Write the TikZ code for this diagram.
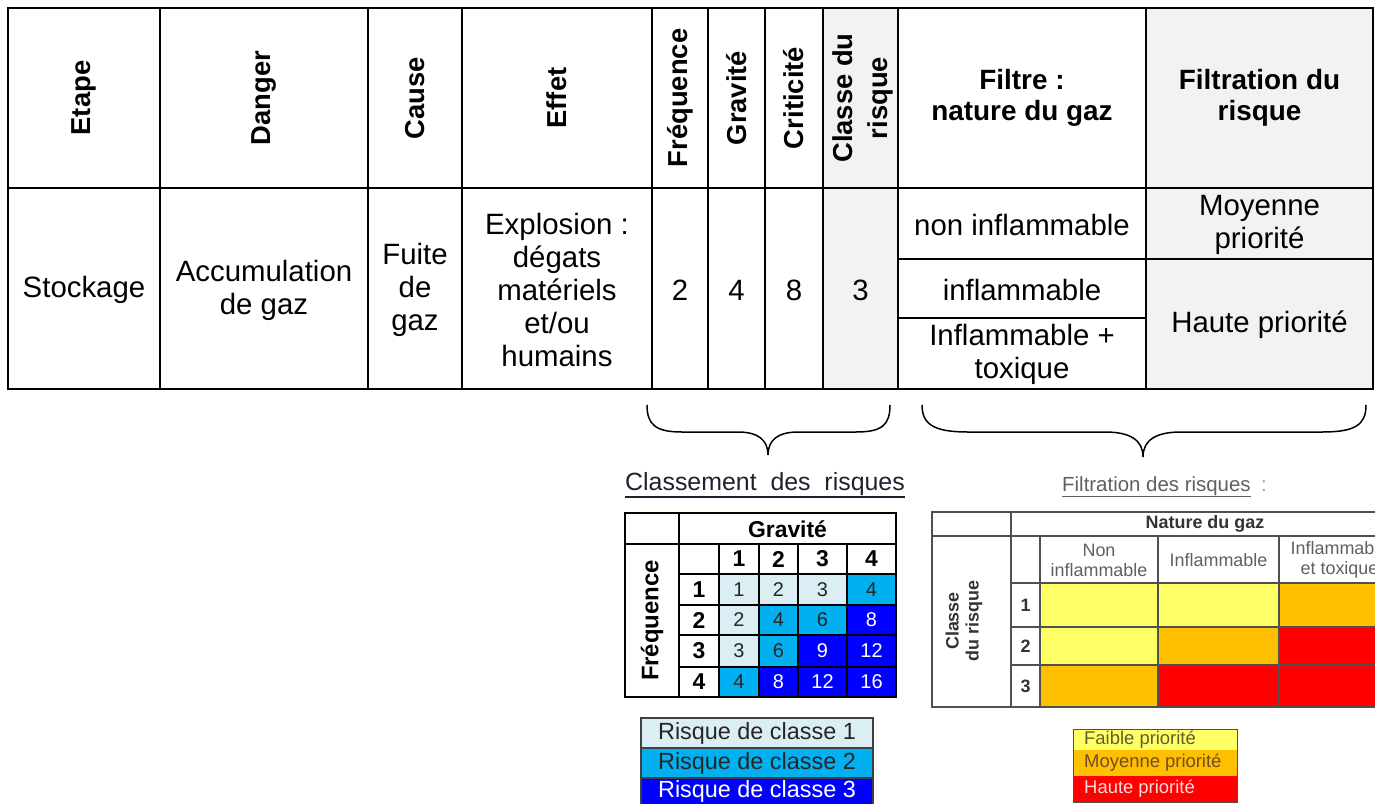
\documentclass[tikz,border=0pt]{standalone}
\usepackage{fontspec}
\setmainfont{Liberation Sans}
\definecolor{cellgray}{HTML}{F2F2F2}
\definecolor{cone}{HTML}{DAEEF3}
\definecolor{ctwo}{HTML}{00B0F0}
\definecolor{cthree}{HTML}{0000FF}
\definecolor{fyel}{HTML}{FFFF66}
\definecolor{forg}{HTML}{FFC000}
\definecolor{fred}{HTML}{FF0000}
\definecolor{fline}{HTML}{505050}
\definecolor{ftext}{HTML}{606060}
\definecolor{titlecol}{HTML}{202030}
\begin{document}
\begin{tikzpicture}[x=1bp,y=-1bp,
  hdr/.style={rotate=90,font=\bfseries\fontsize{27.5}{31}\selectfont,align=center,inner sep=0pt},
  hhdr/.style={font=\bfseries\fontsize{28}{31}\selectfont,align=center,inner sep=0pt},
  body/.style={font=\fontsize{29.5}{33}\selectfont,align=center,inner sep=0pt},
  grid/.style={line width=1.7bp},
  brace/.style={line width=1.5bp},
  mgrid/.style={line width=1.5bp},
  mhead/.style={font=\bfseries\fontsize{23}{26}\selectfont,inner sep=0pt},
  mval/.style={font=\fontsize{20}{22}\selectfont,inner sep=0pt},
  legtext/.style={font=\fontsize{23.5}{26}\selectfont,inner sep=0pt},
  fgrid/.style={line width=1.2bp,draw=fline},
  fhead/.style={font=\fontsize{18}{20}\selectfont,text=ftext,align=center,inner sep=0pt},
  fbold/.style={font=\bfseries\fontsize{18}{20}\selectfont,text=black!80,align=center,inner sep=0pt},
  fleg/.style={font=\fontsize{18.5}{20}\selectfont,anchor=west,inner sep=0pt}]
\clip (0,0) rectangle (1375,803);
\fill[white] (0,0) rectangle (1375,803);

% ---------- main table ----------
\fill[cellgray] (823,8) rectangle (898,389);
\fill[cellgray] (1146,8) rectangle (1373,389);
\draw[grid] (8,8) rectangle (1373,389);
\draw[grid] (8,188) -- (1373,188);
\foreach \x in {160,368,462,652,708,765,823,898,1146}
  \draw[grid] (\x,8) -- (\x,389);
\draw[grid] (898,259) -- (1373,259);
\draw[grid] (898,318) -- (1146,318);

\node[hdr] (hEtape) at (84,98) {Etape};
\node[hdr] (hDanger) at (264,98) {Danger};
\node[hdr] (hCause) at (415,98) {Cause};
\node[hdr] (hEffet) at (557,98) {Effet};
\node[hdr] (hFreq) at (680,98) {Fréquence};
\node[hdr] (hGrav) at (736.5,98) {Gravité};
\node[hdr] (hCrit) at (794,98) {Criticité};
\node[hdr,font=\bfseries\fontsize{27.5}{35}\selectfont] (hClasse) at (863,98) {Classe du\\risque};
\node[hhdr] (hFiltre) at (1022,98) {Filtre :\\nature du gaz};
\node[hhdr] (hFiltration) at (1259.5,98) {Filtration du\\risque};

\node[body] (bEtape) at (84,290) {Stockage};
\node[body] (bDanger) at (264,290) {Accumulation\\de gaz};
\node[body] (bCause) at (415,290) {Fuite\\de\\gaz};
\node[body] (bEffet) at (557,290) {Explosion :\\dégats\\matériels\\et/ou\\humains};
\node[body] (bFreq) at (680,290) {2};
\node[body] (bGrav) at (736.5,290) {4};
\node[body] (bCrit) at (794,290) {8};
\node[body] (bClasse) at (860.5,290) {3};
\node[body] (bNonInf) at (1022,225) {non inflammable};
\node[body] (bInf) at (1022,290) {inflammable};
\node[body] (bInfTox) at (1022,354) {Inflammable +\\toxique};
\node[body] (bMoy) at (1259.5,225) {Moyenne\\priorité};
\node[body] (bHaute) at (1259.5,325) {Haute priorité};

% ---------- braces ----------
\coordinate (lbA) at (647,405);
\coordinate (lbTip) at (768,455);
\coordinate (lbB) at (890,405);
\draw[brace] (lbA) .. controls (647,425) and (656,432) .. (682,432) -- (738,432)
  .. controls (758,432) and (768,440) .. (lbTip)
  .. controls (768,440) and (778,432) .. (798,432) -- (856,432)
  .. controls (882,432) and (890,425) .. (lbB);
\coordinate (rbA) at (922,405);
\coordinate (rbTip) at (1143,457);
\coordinate (rbB) at (1366,405);
\draw[brace] (rbA) .. controls (922,425) and (935,432) .. (968,432) -- (1105,432)
  .. controls (1130,432) and (1143,440) .. (rbTip)
  .. controls (1143,440) and (1156,432) .. (1181,432) -- (1322,432)
  .. controls (1355,432) and (1366,425) .. (rbB);

% ---------- Classement des risques ----------
\node[font=\fontsize{25}{28}\selectfont,text=titlecol,anchor=base,inner sep=0pt] (tClass) at (765,490) {Classement\ \ des\ \ risques};
\draw[line width=1.2bp,titlecol] ([yshift=-7bp]tClass.base west) -- ([yshift=-7bp]tClass.base east);

\foreach \i/\xa/\xb in {1/719/759,2/759/798,3/798/847,4/847/896}{
  \foreach \j/\ya/\yb in {1/574/605,2/605/635,3/635/667,4/667/697}{
    \pgfmathtruncatemacro\v{\i*\j}
    \ifnum\v<4 \def\cc{cone}\def\tc{black!85}\else
      \ifnum\v<7 \def\cc{ctwo}\def\tc{black!85}\else
        \def\cc{cthree}\def\tc{white}\fi\fi
    \fill[\cc] (\xa,\ya) rectangle (\xb,\yb);
    \node[mval,text=\tc] (m\i\j) at ({(\xa+\xb)/2},{(\ya+\yb)/2}) {\v};
  }
}
\foreach \i/\xa/\xb in {1/719/759,2/759/798,3/798/847,4/847/896}
  \node[mhead] (mc\i) at ({(\xa+\xb)/2},559) {\i};
\foreach \j/\ya/\yb in {1/574/605,2/605/635,3/635/667,4/667/697}
  \node[mhead] (mr\j) at (699,{(\ya+\yb)/2}) {\j};
\node[mhead] (mGrav) at (787.5,529) {Gravité};
\node[mhead,rotate=90,font=\bfseries\fontsize{24}{26}\selectfont] (mFreq) at (652,620.5) {Fréquence};
\draw[mgrid] (625,513) rectangle (896,697);
\draw[mgrid] (625,544) -- (896,544);
\draw[mgrid] (679,513) -- (679,697);
\foreach \x in {719,759,798,847} \draw[mgrid] (\x,544) -- (\x,697);
\foreach \y in {574,605,635,667} \draw[mgrid] (679,\y) -- (896,\y);

% legend 1
\fill[cone] (641,718) rectangle (873,748);
\fill[ctwo] (641,748) rectangle (873,778);
\fill[cthree] (641,778) rectangle (873,810);
\draw[line width=1.2bp,black!75] (641,810) -- (641,718) -- (873,718) -- (873,810);
\draw[line width=1.2bp,black!75] (641,748) -- (873,748) (641,778) -- (873,778);
\node[legtext,text=black!85] (lg1) at (757,733) {Risque de classe 1};
\node[legtext,text=black!85] (lg2) at (757,763) {Risque de classe 2};
\node[legtext,text=white] (lg3) at (757,791) {Risque de classe 3};

% ---------- Filtration des risques ----------
\node[font=\fontsize{20.5}{22}\selectfont,text=ftext,anchor=base west,inner sep=0pt] (tFilt) at (1062,491) {Filtration\ des\ risques};
\node[font=\fontsize{20.5}{22}\selectfont,text=ftext!60,anchor=base west,inner sep=0pt] (tColon) at (1261,491) {:};
\draw[line width=1bp,ftext] ([yshift=-5bp]tFilt.base west) -- ([yshift=-5bp]tFilt.base east);

\fill[fyel] (1040,583) rectangle (1158,627);
\fill[fyel] (1158,583) rectangle (1279,627);
\fill[forg] (1279,583) rectangle (1400,627);
\fill[fyel] (1040,627) rectangle (1158,665);
\fill[forg] (1158,627) rectangle (1279,665);
\fill[fred] (1279,627) rectangle (1400,665);
\fill[forg] (1040,665) rectangle (1158,707);
\fill[fred] (1158,665) rectangle (1279,707);
\fill[fred] (1279,665) rectangle (1400,707);
\draw[fgrid] (932,512) rectangle (1400,707);
\draw[fgrid] (932,536) -- (1400,536);
\draw[fgrid] (1011,512) -- (1011,707);
\draw[fgrid] (1011,583) -- (1400,583);
\foreach \x in {1040,1158,1279} \draw[fgrid] (\x,536) -- (\x,707);
\foreach \y in {627,665} \draw[fgrid] (1011,\y) -- (1400,\y);

\node[fbold] (fNature) at (1205,524) {Nature du gaz};
\node[fhead] (fNon) at (1099,560) {Non\\inflammable};
\node[fhead] (fInf) at (1218.5,560) {Inflammable};
\node[fhead] (fInfTox) at (1339.5,560) {Inflammable\\et toxique};
\node[fbold,rotate=90] (fClasse) at (964,621) {Classe\\du risque};
\node[fbold] (fr1) at (1025.5,605) {1};
\node[fbold] (fr2) at (1025.5,646) {2};
\node[fbold] (fr3) at (1025.5,686) {3};

% legend 2
\fill[fyel] (1073,729) rectangle (1237,750);
\fill[forg] (1073,750) rectangle (1237,776);
\fill[fred] (1073,776) rectangle (1237,802);
\draw[line width=1bp,fline] (1073,729) rectangle (1237,802);
\node[fleg,text=olive!60!black] (fl1) at (1084,740) {Faible priorité};
\node[fleg,text=brown!60!black] (fl2) at (1084,763) {Moyenne priorité};
\node[fleg,text=red!15] (fl3) at (1084,789) {Haute priorité};
\end{tikzpicture}
\end{document}
